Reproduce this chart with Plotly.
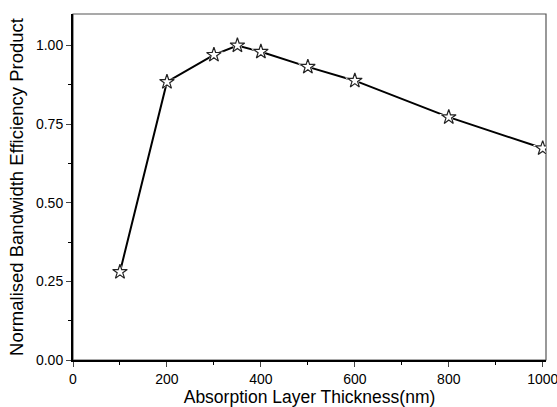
import plotly.graph_objects as go

thickness = [100, 200, 300, 350, 400, 500, 600, 800, 1000]
efficiency = [0.28, 0.884, 0.97, 1.0, 0.98, 0.932, 0.888, 0.772, 0.673]
x_ticks = [0, 200, 400, 600, 800, 1000]
y_ticks = [0.0, 0.25, 0.5, 0.75, 1.0]

fig = go.Figure()
fig.add_trace(go.Scatter(x=thickness, y=efficiency, mode="lines",
                         line=dict(color="black", width=2), hoverinfo="skip"))
fig.add_trace(go.Scatter(x=thickness, y=efficiency, mode="markers",
                         marker=dict(symbol="star", size=15, color="white",
                                     line=dict(width=0)), hoverinfo="skip"))
fig.add_trace(go.Scatter(x=thickness, y=efficiency, mode="markers",
                         marker=dict(symbol="star-open", size=11, color="#222",
                                     line=dict(width=1.2))))

fig.add_shape(type="rect", xref="paper", yref="paper", x0=0, y0=0, x1=1, y1=1,
              line=dict(color="#555", width=1.2), layer="below")

font = "Liberation Sans, Arial, sans-serif"
fig.update_layout(
    width=557, height=407,
    margin=dict(l=73, r=11, t=14, b=47, autoexpand=False),
    paper_bgcolor="white", plot_bgcolor="white",
    showlegend=False,
    font=dict(family=font, color="black", size=14),
    xaxis=dict(range=[0, 1007], tickvals=x_ticks, ticks="outside", ticklen=5,
               tickwidth=1.2, showline=True, linecolor="black", linewidth=2,
               showgrid=False, zeroline=False, automargin=False,
               ticklabeloverflow="allow",
               minor=dict(tickvals=[100, 300, 500, 700, 900], ticks="outside",
                          ticklen=3, tickwidth=1, tickcolor="black"),
               title=dict(text="Absorption Layer Thickness(nm)", font=dict(size=17.5),
                          standoff=5)),
    yaxis=dict(range=[0, 1.1], tickvals=y_ticks, tickformat=".2f", ticks="outside",
               ticklen=5, tickwidth=1.2, showline=True, linecolor="black", linewidth=2,
               showgrid=False, zeroline=False, automargin=False,
               minor=dict(tickvals=[0.125, 0.375, 0.625, 0.875], ticks="outside",
                          ticklen=3, tickwidth=1, tickcolor="black"),
               title=dict(text="Normalised Bandwidth Efficiency Product",
                          font=dict(size=18.5), standoff=7)),
)
fig.write_html("out.html", config={"displayModeBar": False},
               post_script="document.body.style.margin='0';document.body.style.overflow='hidden';")
